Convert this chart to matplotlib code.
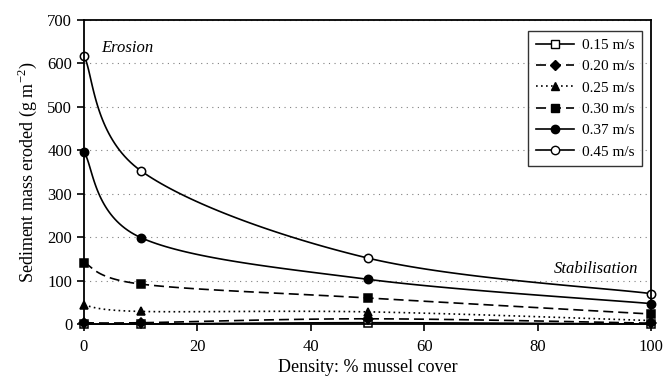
import numpy as np
import matplotlib.pyplot as plt

plt.rcParams["font.family"] = ["Liberation Serif", "DejaVu Serif"]
plt.rcParams["mathtext.fontset"] = "custom"
plt.rcParams["mathtext.rm"] = "Liberation Serif"

density = [0, 10, 50, 100]
v015 = [0, 0, 3, 0]
v020 = [3, 3, 12, 2]
v025 = [43, 29, 28, 8]
v030 = [141, 92, 60, 23]
v037 = [396, 199, 103, 47]
v045 = [618, 353, 152, 70]

series = [
    ("0.15 m/s", v015, "-", "s", "white"),
    ("0.20 m/s", v020, (0, (6, 3)), "D", "black"),
    ("0.25 m/s", v025, (0, (1, 2)), "^", "black"),
    ("0.30 m/s", v030, (0, (6, 3)), "s", "black"),
    ("0.37 m/s", v037, "-", "o", "black"),
    ("0.45 m/s", v045, "-", "o", "white"),
]


def smooth(x, y, n=40):
    # Catmull-Rom in scaled space, like spreadsheet smoothed lines
    x = np.asarray(x, float) / 100.0
    y = np.asarray(y, float) / 700.0 * 0.53
    p = np.column_stack([x, y])
    p = np.vstack([p[0], p, p[-1]])
    out = []
    for i in range(1, len(p) - 2):
        p0, p1, p2, p3 = p[i - 1], p[i], p[i + 1], p[i + 2]
        t = np.linspace(0, 1, n)[:, None]
        c1 = p1 + (p2 - p0) / 6
        c2 = p2 - (p3 - p1) / 6
        seg = (1 - t) ** 3 * p1 + 3 * (1 - t) ** 2 * t * c1 + 3 * (1 - t) * t ** 2 * c2 + t ** 3 * p2
        out.append(seg)
    out = np.vstack(out)
    return out[:, 0] * 100.0, out[:, 1] / 0.53 * 700.0


fig = plt.figure(figsize=(6.64, 3.83), dpi=100)
ax = fig.add_axes([0.1265, 0.154, 0.854, 0.794])

for label, vals, ls, mk, mfc in series:
    ms = 5 if mk == "D" else 6
    sx, sy = smooth(density, vals)
    ax.plot(sx, sy, color="black", linestyle=ls, linewidth=1.2, clip_on=False)
    ax.plot(density, vals, linestyle="none", marker=mk, markersize=ms,
            markerfacecolor=mfc, markeredgecolor="black", markeredgewidth=1.1, clip_on=False)
    ax.plot([], [], color="black", linestyle=ls, linewidth=1.2, marker=mk,
            markersize=ms, markerfacecolor=mfc,
            markeredgecolor="black", label=label)

ax.set_xlim(0, 100)
ax.set_ylim(0, 700)
ax.set_xticks(range(0, 101, 20))
ax.set_yticks(range(0, 701, 100))
ax.yaxis.grid(True, linestyle=(0, (1, 4)), color="gray", linewidth=0.8)
ax.tick_params(axis="both", direction="out", labelsize=12, length=5, width=1.2, colors="black")
ax.tick_params(axis="x", pad=6)
for s in ax.spines.values():
    s.set_linewidth(1.3)

ax.set_xlabel("Density: % mussel cover", fontsize=13, labelpad=3)
ax.set_ylabel("Sediment mass eroded (g m$^{-2}$)", fontsize=13, labelpad=6)

ax.text(3, 626, "Erosion", fontstyle="italic", fontsize=12)
ax.text(97.8, 118, "Stabilisation", fontstyle="italic", fontsize=12, ha="right")

leg = ax.legend(loc="upper right", bbox_to_anchor=(0.997, 0.99), fontsize=11,
                fancybox=False, edgecolor="black", handlelength=2.5,
                labelspacing=0.5, borderpad=0.5, handletextpad=0.5)
leg.get_frame().set_linewidth(1.0)

fig.savefig("out.png", dpi=100)
